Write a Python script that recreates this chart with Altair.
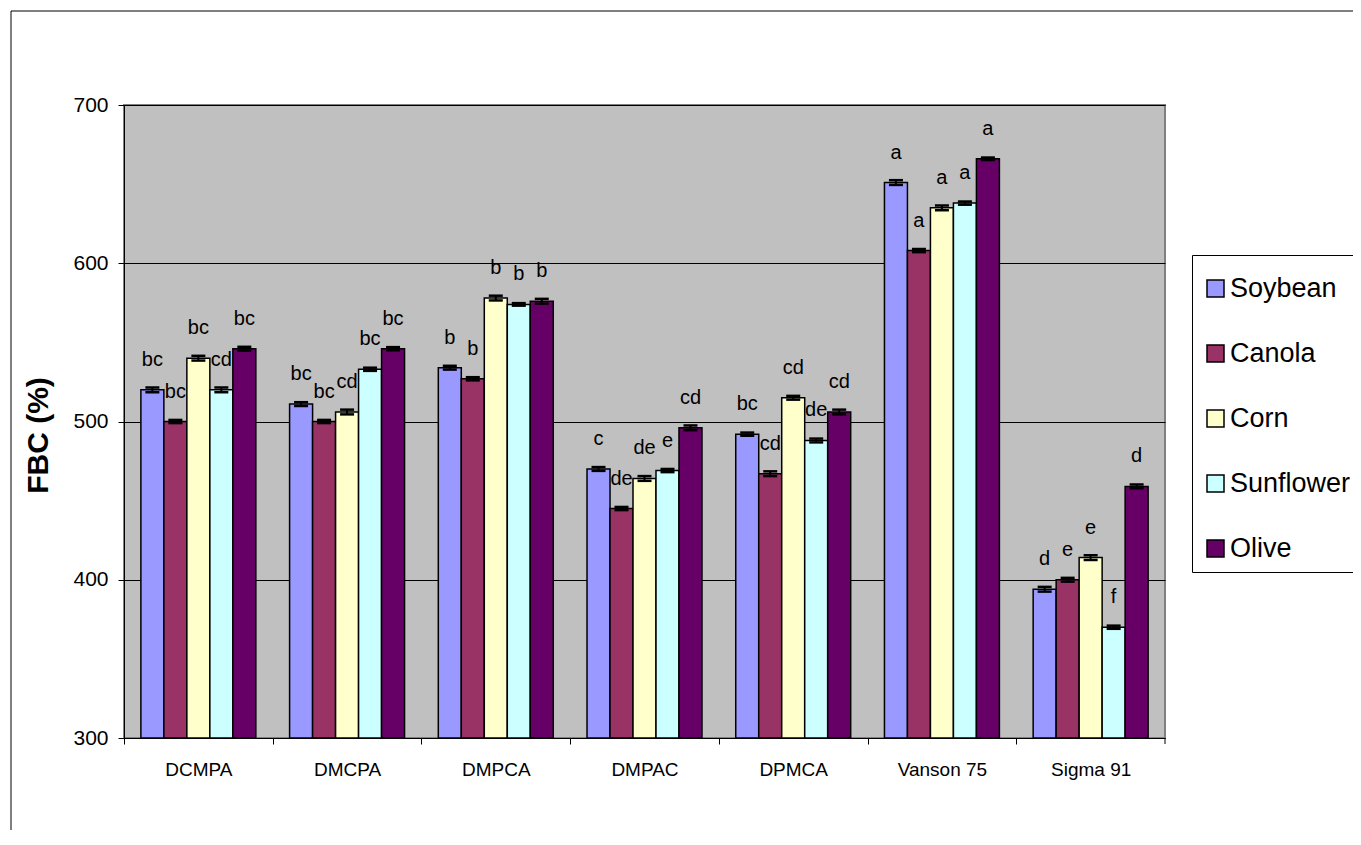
import altair as alt
import pandas as pd

categories = ["DCMPA", "DMCPA", "DMPCA", "DMPAC", "DPMCA", "Vanson 75", "Sigma 91"]
oils = ["Soybean", "Canola", "Corn", "Sunflower", "Olive"]
colors = ["#9999FF", "#993366", "#FFFFCC", "#CCFFFF", "#660066"]

soybean = [520, 511, 534, 470, 492, 651, 394]
canola = [500, 500, 527, 445, 467, 608, 400]
corn = [540, 506, 578, 464, 515, 635, 414]
sunflower = [520, 533, 574, 469, 488, 638, 370]
olive = [546, 546, 576, 496, 506, 666, 459]

soybean_err = [1.5, 1.2, 1.2, 1.2, 1.0, 1.5, 1.5]
canola_err = [1.0, 1.0, 1.0, 1.0, 1.5, 1.0, 1.2]
corn_err = [1.5, 1.5, 1.5, 1.5, 1.2, 1.5, 1.5]
sunflower_err = [1.5, 1.0, 0.8, 1.0, 1.2, 1.0, 1.0]
olive_err = [1.2, 1.0, 1.5, 1.5, 1.5, 0.8, 1.2]

soybean_lbl = ["bc", "bc", "b", "c", "bc", "a", "d"]
canola_lbl = ["bc", "bc", "b", "de", "cd", "a", "e"]
corn_lbl = ["bc", "cd", "b", "de", "cd", "a", "e"]
sunflower_lbl = ["cd", "bc", "b", "e", "de", "a", "f"]
olive_lbl = ["bc", "bc", "b", "cd", "cd", "a", "d"]

y_ticks = [300, 400, 500, 600, 700]
y_base = 300

series = [
    ("Soybean", soybean, soybean_err, soybean_lbl),
    ("Canola", canola, canola_err, canola_lbl),
    ("Corn", corn, corn_err, corn_lbl),
    ("Sunflower", sunflower, sunflower_err, sunflower_lbl),
    ("Olive", olive, olive_err, olive_lbl),
]

rows = []
for i, c in enumerate(categories):
    for name, vals, errs, lbls in series:
        rows.append(dict(cat=c, oil=name, val=vals[i], base=y_base,
                         lo=vals[i] - errs[i], hi=vals[i] + errs[i], lbl=lbls[i]))
df = pd.DataFrame(rows)

W, H = 1041, 633
STEP = W / len(categories)
LABEL_FONT = "Liberation Sans Narrow, Arial Narrow, Liberation Sans, Arial"

xenc = alt.X("cat:N", sort=categories,
             scale=alt.Scale(paddingInner=0.227, paddingOuter=0.1135),
             axis=alt.Axis(title=None, labelAngle=0, grid=False, tickSize=6,
                           tickOffset=-STEP / 2, labelOffset=STEP / 2,
                           labelPadding=16, labelFontSize=19, labelFont=LABEL_FONT))
xoff = alt.XOffset("oil:N", sort=oils, scale=alt.Scale(paddingInner=0, paddingOuter=0))


def yenc(field):
    return alt.Y(field, type="quantitative",
                 scale=alt.Scale(domain=[300, 700], nice=False, zero=False),
                 axis=alt.Axis(values=y_ticks, title="FBC (%)", grid=True,
                               gridColor="black", gridWidth=1, tickSize=6,
                               labelPadding=10, labelFontSize=21, labelFont=LABEL_FONT,
                               titleFont="Liberation Sans", titleFontWeight="bold",
                               titleFontSize=30, titleAngle=270, titleX=-86,
                               titleY=330, titleAlign="center",
                               titleBaseline="middle"))


base = alt.Chart(df)

bars = base.mark_bar(stroke="black", strokeWidth=1.5, clip=True).encode(
    x=xenc, xOffset=xoff, y=yenc("val"), y2="base:Q",
    color=alt.Color("oil:N", sort=oils,
                    scale=alt.Scale(domain=oils, range=colors),
                    legend=alt.Legend(title=" ", titleFontSize=1, titlePadding=9,
                                      orient="none", legendX=1068, legendY=150,
                                      direction="vertical",
                                      symbolType="square", symbolSize=289,
                                      symbolStrokeColor="black", symbolStrokeWidth=1.5,
                                      labelFontSize=27, labelFont="Liberation Sans",
                                      labelColor="black", labelOffset=1,
                                      rowPadding=37, padding=10,
                                      strokeColor="black", fillColor="white")),
)

err = base.mark_rule(color="black", strokeWidth=2).encode(
    x=xenc, xOffset=xoff, y=yenc("lo"), y2="hi:Q")
cap_hi = base.mark_tick(color="black", thickness=2.5, size=14, opacity=1).encode(
    x=xenc, xOffset=xoff, y=yenc("hi"))
cap_lo = base.mark_tick(color="black", thickness=2.5, size=14, opacity=1).encode(
    x=xenc, xOffset=xoff, y=yenc("lo"))

labels = base.mark_text(fontSize=20, font="Liberation Sans", color="black",
                        baseline="alphabetic", dy=-24).encode(
    x=xenc, xOffset=xoff, y=yenc("val"), text="lbl:N")

frame_df = pd.DataFrame({"k": [0]})
frame_left = alt.Chart(frame_df).mark_rule(color="black", strokeWidth=1).encode(
    x=alt.value(-113), y=alt.value(-94), y2=alt.value(H + 200))
frame_top = alt.Chart(frame_df).mark_rule(color="black", strokeWidth=1).encode(
    x=alt.value(-113), x2=alt.value(W + 300), y=alt.value(-94))
end_tick = alt.Chart(frame_df).mark_rule(color="black", strokeWidth=1).encode(
    x=alt.value(W), y=alt.value(H), y2=alt.value(H + 6))

chart = alt.layer(bars, err, cap_hi, cap_lo, labels, frame_left, frame_top,
                  end_tick).properties(
    width=W, height=H,
    autosize=alt.AutoSizeParams(type="none"),
    padding={"left": 116, "top": 97, "right": 188, "bottom": 92},
    background="white",
).configure_view(
    fill="#C0C0C0", stroke="#808080", strokeWidth=2
).configure_axis(
    domainColor="black", tickColor="black", labelColor="black", titleColor="black",
    domainWidth=1, tickWidth=1
)

chart.save("out.html", embed_options={"renderer": "svg", "actions": False})
